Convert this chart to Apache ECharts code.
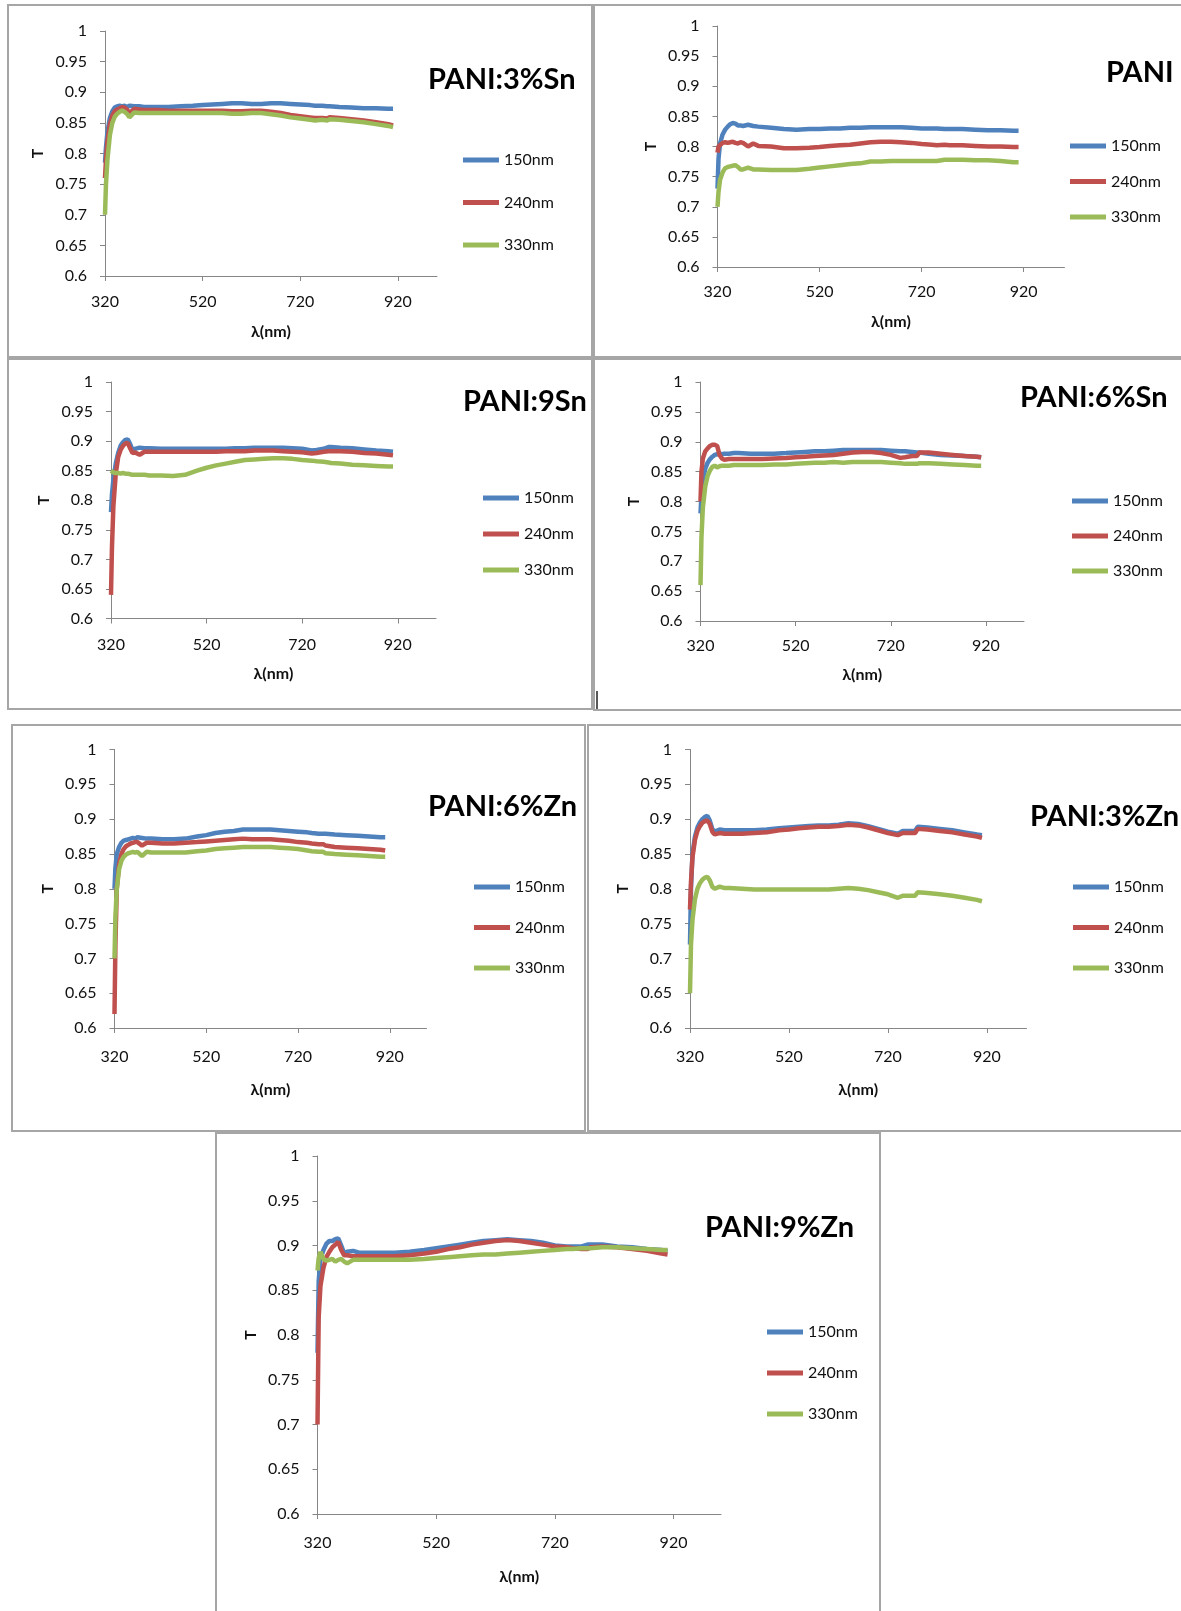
<!DOCTYPE html>
<html>
<head>
<meta charset="utf-8">
<script src="https://cdn.jsdelivr.net/npm/echarts@6/dist/echarts.min.js"></script>
<style>
  html, body { margin: 0; padding: 0; background: #fff; }
  #chart { width: 1181px; height: 1611px; }
</style>
</head>
<body>
<div id="chart"></div>
<script>
// Wavelength sampling (nm) shared by every transmittance curve
const WL = [320, 322, 325, 330, 335, 340, 345, 350, 355, 360,
            365, 370, 380, 390, 400, 425, 450, 475, 500, 520,
            540, 560, 580, 600, 620, 640, 660, 680, 700, 720,
            740, 750, 765, 775, 780, 800, 825, 850, 875, 900,
            910];

// Film thicknesses (legend entries)
const THICKNESS = ['150nm', '240nm', '330nm'];

// X tick labels
const X_TICKS = [320, 520, 720, 920];

// PANI:3%Sn
const sn3_150 = [0.785,0.81,0.835,0.858,0.869,0.875,0.877,0.878,0.877,0.878, 0.876,0.878,0.877,0.877,0.876,0.876,0.876,0.877,0.878,0.879, 0.880,0.881,0.882,0.882,0.881,0.881,0.882,0.882,0.881,0.880, 0.879,0.878,0.878,0.877,0.877,0.876,0.875,0.874,0.874,0.873, 0.873];
const sn3_240 = [0.76,0.79,0.82,0.848,0.862,0.869,0.872,0.874,0.876,0.875, 0.872,0.866,0.873,0.872,0.871,0.871,0.870,0.870,0.870,0.870, 0.870,0.870,0.869,0.869,0.870,0.870,0.868,0.866,0.863,0.861, 0.859,0.858,0.858,0.857,0.859,0.858,0.856,0.854,0.851,0.848, 0.846];
const sn3_330 = [0.70,0.75,0.79,0.83,0.850,0.860,0.865,0.868,0.870,0.868, 0.865,0.859,0.867,0.866,0.866,0.866,0.866,0.866,0.866,0.866, 0.866,0.866,0.865,0.865,0.866,0.866,0.864,0.862,0.859,0.857, 0.855,0.854,0.855,0.854,0.856,0.855,0.853,0.851,0.848,0.845, 0.843];

// PANI
const pani_150 = [0.73,0.78,0.805,0.82,0.828,0.833,0.837,0.839,0.838,0.835, 0.835,0.834,0.836,0.834,0.833,0.831,0.829,0.828,0.829,0.829, 0.830,0.830,0.831,0.831,0.832,0.832,0.832,0.832,0.831,0.830, 0.830,0.830,0.829,0.829,0.829,0.829,0.828,0.827,0.827,0.826, 0.826];
const pani_240 = [0.79,0.80,0.803,0.806,0.807,0.806,0.807,0.808,0.806,0.805, 0.807,0.806,0.800,0.805,0.801,0.800,0.797,0.797,0.798,0.799, 0.801,0.802,0.803,0.805,0.807,0.808,0.808,0.807,0.806,0.804, 0.803,0.802,0.803,0.802,0.802,0.802,0.801,0.800,0.800,0.799, 0.799];
const pani_330 = [0.70,0.725,0.745,0.757,0.764,0.766,0.767,0.768,0.769,0.766, 0.762,0.762,0.765,0.762,0.762,0.761,0.761,0.761,0.763,0.765, 0.767,0.769,0.771,0.772,0.775,0.775,0.776,0.776,0.776,0.776, 0.776,0.776,0.778,0.778,0.778,0.778,0.777,0.777,0.776,0.774, 0.774];

// PANI:9Sn
const sn9_150 = [0.78,0.81,0.835,0.862,0.880,0.892,0.898,0.902,0.903,0.895, 0.885,0.887,0.889,0.888,0.888,0.887,0.887,0.887,0.887,0.887, 0.887,0.887,0.888,0.888,0.889,0.889,0.889,0.889,0.888,0.887, 0.884,0.885,0.887,0.890,0.890,0.889,0.888,0.886,0.884,0.883, 0.882];
const sn9_240 = [0.64,0.72,0.79,0.845,0.873,0.885,0.892,0.896,0.897,0.888, 0.880,0.881,0.877,0.882,0.882,0.882,0.882,0.882,0.882,0.882, 0.882,0.883,0.883,0.883,0.884,0.884,0.884,0.883,0.882,0.881, 0.879,0.880,0.882,0.883,0.883,0.883,0.882,0.880,0.879,0.877, 0.876];
const sn9_330 = [0.85,0.848,0.847,0.846,0.846,0.845,0.846,0.845,0.845,0.844, 0.843,0.843,0.843,0.843,0.842,0.842,0.841,0.843,0.850,0.855, 0.859,0.862,0.865,0.868,0.869,0.870,0.871,0.871,0.870,0.868, 0.867,0.866,0.865,0.864,0.863,0.862,0.860,0.859,0.858,0.857, 0.857];

// PANI:6%Sn
const sn6_150 = [0.78,0.81,0.835,0.855,0.865,0.871,0.875,0.878,0.879,0.880, 0.879,0.880,0.880,0.881,0.881,0.880,0.880,0.880,0.881,0.882, 0.883,0.884,0.884,0.885,0.886,0.886,0.886,0.886,0.886,0.885, 0.884,0.884,0.883,0.882,0.882,0.880,0.878,0.877,0.876,0.875, 0.874];
const sn6_240 = [0.80,0.85,0.872,0.884,0.889,0.893,0.895,0.895,0.893,0.878, 0.872,0.870,0.871,0.871,0.871,0.871,0.871,0.872,0.873,0.874, 0.875,0.876,0.877,0.878,0.880,0.882,0.883,0.883,0.881,0.878, 0.873,0.874,0.876,0.876,0.882,0.882,0.880,0.878,0.876,0.875, 0.874];
const sn6_330 = [0.66,0.74,0.79,0.825,0.843,0.852,0.858,0.860,0.857,0.859, 0.860,0.860,0.860,0.861,0.861,0.861,0.861,0.862,0.862,0.863, 0.864,0.865,0.865,0.866,0.865,0.866,0.866,0.866,0.866,0.865, 0.864,0.863,0.863,0.863,0.864,0.864,0.863,0.862,0.861,0.860, 0.860];

// PANI:6%Zn
const zn6_150 = [0.80,0.83,0.850,0.860,0.866,0.869,0.870,0.871,0.872,0.873, 0.872,0.874,0.873,0.872,0.872,0.871,0.871,0.872,0.875,0.877, 0.880,0.882,0.883,0.885,0.885,0.885,0.885,0.884,0.883,0.882, 0.881,0.880,0.879,0.879,0.879,0.878,0.877,0.876,0.875,0.874, 0.874];
const zn6_240 = [0.62,0.72,0.80,0.835,0.850,0.857,0.861,0.863,0.865,0.866, 0.867,0.867,0.862,0.866,0.866,0.865,0.865,0.866,0.867,0.868, 0.869,0.870,0.871,0.872,0.871,0.871,0.871,0.870,0.869,0.867, 0.866,0.865,0.864,0.864,0.862,0.860,0.859,0.858,0.857,0.856, 0.855];
const zn6_330 = [0.70,0.76,0.80,0.828,0.840,0.846,0.849,0.851,0.852,0.853, 0.852,0.853,0.847,0.853,0.852,0.852,0.852,0.852,0.854,0.855, 0.857,0.858,0.859,0.860,0.860,0.860,0.860,0.859,0.858,0.857, 0.855,0.854,0.853,0.853,0.851,0.850,0.849,0.848,0.847,0.846, 0.846];

// PANI:3%Zn
const zn3_150 = [0.72,0.80,0.850,0.875,0.888,0.895,0.900,0.903,0.905,0.898, 0.886,0.882,0.885,0.884,0.884,0.884,0.884,0.885,0.887,0.888, 0.889,0.890,0.891,0.891,0.892,0.894,0.893,0.890,0.886,0.882, 0.879,0.883,0.883,0.883,0.889,0.888,0.886,0.884,0.881,0.878, 0.877];
const zn3_240 = [0.77,0.81,0.845,0.870,0.883,0.890,0.895,0.897,0.898,0.893, 0.882,0.878,0.880,0.879,0.879,0.879,0.880,0.881,0.884,0.885, 0.887,0.888,0.889,0.889,0.890,0.892,0.891,0.888,0.884,0.880, 0.877,0.880,0.880,0.880,0.886,0.885,0.883,0.881,0.878,0.875, 0.873];
const zn3_330 = [0.65,0.72,0.755,0.785,0.800,0.808,0.813,0.816,0.817,0.812, 0.803,0.800,0.803,0.801,0.801,0.800,0.799,0.799,0.799,0.799, 0.799,0.799,0.799,0.799,0.800,0.801,0.800,0.798,0.795,0.792, 0.787,0.790,0.790,0.790,0.795,0.794,0.792,0.790,0.787,0.784, 0.782];

// PANI:9%Zn
const zn9_150 = [0.78,0.86,0.885,0.895,0.902,0.905,0.905,0.907,0.908,0.900, 0.891,0.893,0.894,0.892,0.892,0.892,0.892,0.893,0.895,0.897, 0.899,0.901,0.903,0.905,0.906,0.907,0.906,0.905,0.903,0.900, 0.899,0.899,0.899,0.901,0.901,0.901,0.899,0.898,0.896,0.895, 0.894];
const zn9_240 = [0.70,0.82,0.855,0.875,0.887,0.893,0.898,0.901,0.904,0.895, 0.889,0.889,0.888,0.888,0.888,0.888,0.888,0.889,0.891,0.893, 0.896,0.898,0.901,0.903,0.905,0.906,0.905,0.903,0.901,0.899, 0.898,0.897,0.896,0.896,0.898,0.899,0.898,0.896,0.894,0.891, 0.890];
const zn9_330 = [0.872,0.886,0.893,0.885,0.883,0.884,0.885,0.882,0.884,0.885, 0.882,0.880,0.884,0.884,0.884,0.884,0.884,0.884,0.885,0.886, 0.887,0.888,0.889,0.890,0.890,0.891,0.892,0.893,0.894,0.895, 0.896,0.896,0.897,0.897,0.897,0.898,0.898,0.897,0.896,0.895, 0.895];

// Series colours (150, 240, 330 nm)
const COLORS = ['#4F81BD', '#C0504D', '#9BBB59'];
const FONT = 'Lato';
const TEXT = '#111111';
const AXIS = '#868686';

// Panel layout: plot area, legend block, title anchor, frame
const PANELS = [
  { title: 'PANI:3%Sn', curves: [sn3_150, sn3_240, sn3_330],
    grid: [105, 31, 332, 245], legend: [463, 152, 26.5], titleAt: [428, 80],
    labelGap: 18, nameGap: 48, frame: [8, 5, 584, 352] },
  { title: 'PANI', curves: [pani_150, pani_240, pani_330],
    grid: [717.5, 26, 347, 241], legend: [1070, 138, 19.5], titleAt: [1106, 73],
    labelGap: 17, nameGap: 47, frame: [594, 5, 600, 352] },
  { title: 'PANI:9Sn', curves: [sn9_150, sn9_240, sn9_330],
    grid: [111, 382, 325, 236.5], legend: [483, 490, 20], titleAt: [463, 402],
    labelGap: 18, nameGap: 47, frame: [8, 359, 584, 350] },
  { title: 'PANI:6%Sn', curves: [sn6_150, sn6_240, sn6_330],
    grid: [700.5, 382, 323.5, 239], legend: [1072, 493, 19], titleAt: [1020, 398],
    labelGap: 17, nameGap: 46, frame: [594, 359, 600, 351] },
  { title: 'PANI:6%Zn', curves: [zn6_150, zn6_240, zn6_330],
    grid: [114.5, 749.5, 312, 278.5], legend: [474, 879, 24.5], titleAt: [428, 807],
    labelGap: 21, nameGap: 54, frame: [12, 725, 573, 406] },
  { title: 'PANI:3%Zn', curves: [zn3_150, zn3_240, zn3_330],
    grid: [690, 749.5, 336.5, 278.5], legend: [1073, 879, 24.5], titleAt: [1030, 817],
    labelGap: 21, nameGap: 54, frame: [588, 725, 600, 406] },
  { title: 'PANI:9%Zn', curves: [zn9_150, zn9_240, zn9_330],
    grid: [317.5, 1156, 403.5, 358], legend: [767, 1324, 25], titleAt: [705, 1228],
    labelGap: 21, nameGap: 55, frame: [216, 1133, 664, 500] }
];

const chart = echarts.init(document.getElementById('chart'), null, { renderer: 'canvas' });

const grids = [], xAxes = [], yAxes = [], series = [], legends = [], graphics = [];

PANELS.forEach((p, i) => {
  grids.push({
    left: p.grid[0], top: p.grid[1], width: p.grid[2], height: p.grid[3],
    containLabel: false, outerBoundsMode: 'none'
  });
  xAxes.push({
    gridIndex: i, type: 'value', min: 320, max: 1000,
    name: 'λ(nm)', nameLocation: 'middle', nameGap: p.nameGap,
    nameTextStyle: { fontFamily: FONT, fontSize: 16, fontWeight: 'bold', color: TEXT },
    axisLine: { show: true, onZero: false, lineStyle: { color: AXIS, width: 1 } },
    axisTick: { show: true, length: 5, inside: false, customValues: X_TICKS, lineStyle: { color: AXIS } },
    axisLabel: { customValues: X_TICKS, margin: p.labelGap, fontFamily: FONT, fontSize: 16, color: TEXT },
    splitLine: { show: false }
  });
  yAxes.push({
    gridIndex: i, type: 'value', min: 0.6, max: 1, interval: 0.05,
    name: 'T', nameLocation: 'middle', nameGap: 59, nameRotate: 90,
    nameTextStyle: { fontFamily: FONT, fontSize: 16, fontWeight: 'bold', color: TEXT },
    axisLine: { show: true, onZero: false, lineStyle: { color: AXIS, width: 1 } },
    axisTick: { show: true, length: 5, inside: false, lineStyle: { color: AXIS } },
    axisLabel: { margin: 18, fontFamily: FONT, fontSize: 16, color: TEXT,
                 formatter: v => String(+v.toFixed(2)) },
    splitLine: { show: false }
  });
  p.curves.forEach((vals, k) => {
    series.push({
      type: 'line', name: THICKNESS[k], xAxisIndex: i, yAxisIndex: i,
      data: WL.map((w, j) => [w, vals[j]]),
      showSymbol: false, symbol: 'none', smooth: false,
      lineStyle: { width: 4.5, color: COLORS[k] },
      itemStyle: { color: COLORS[k] },
      z: 2 + k
    });
  });
  legends.push({
    data: THICKNESS, orient: 'vertical',
    left: p.legend[0], top: p.legend[1], itemGap: p.legend[2],
    itemWidth: 36, itemHeight: 5, icon: 'rect', padding: 0,
    selectedMode: false,
    textStyle: { fontFamily: FONT, fontSize: 16, color: TEXT, lineHeight: 16 }
  });
  graphics.push({
    type: 'rect', z: 0, silent: true,
    shape: { x: p.frame[0], y: p.frame[1], width: p.frame[2], height: p.frame[3] },
    style: { fill: 'none', stroke: '#a6a6a6', lineWidth: 2 }
  });
  graphics.push({
    type: 'text', z: 10, silent: true,
    x: p.titleAt[0], y: p.titleAt[1],
    style: { text: p.title, fontFamily: FONT, fontSize: 29, fontWeight: 'bold',
             fill: '#000', align: 'left', verticalAlign: 'middle' }
  });
});

// small vertical mark between the middle-row frames
graphics.push({
  type: 'line', z: 10, silent: true,
  shape: { x1: 597, y1: 691, x2: 597, y2: 709 },
  style: { stroke: '#222', lineWidth: 1.5 }
});

chart.setOption({
  backgroundColor: '#ffffff',
  animation: false,
  grid: grids,
  xAxis: xAxes,
  yAxis: yAxes,
  legend: legends,
  series: series,
  graphic: graphics
});
</script>
</body>
</html>
